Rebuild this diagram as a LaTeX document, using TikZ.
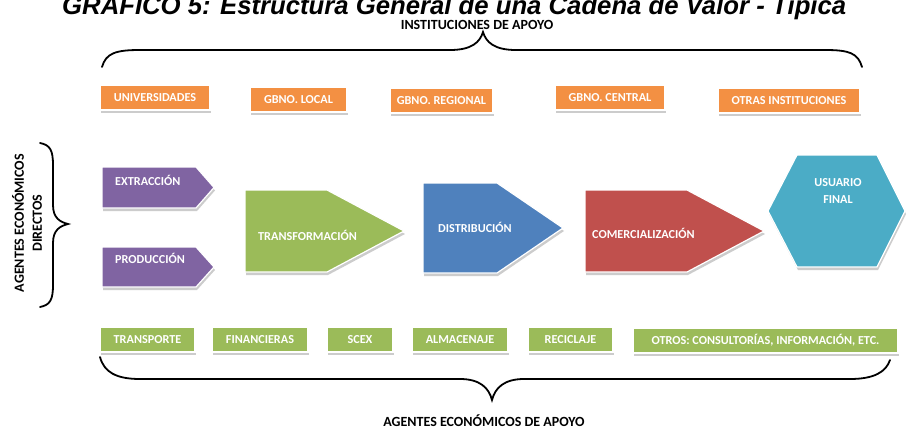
\documentclass[tikz,border=0pt]{standalone}
\usepackage{fontspec}
\setmainfont{Carlito}
\newfontfamily\titlefont{Liberation Sans}
\usetikzlibrary{shadows}
\definecolor{corange}{HTML}{F39043}
\definecolor{cpurple}{HTML}{8064A2}
\definecolor{cgreen}{HTML}{9BBB59}
\definecolor{cblue}{HTML}{4F81BD}
\definecolor{cred}{HTML}{C0504D}
\definecolor{cteal}{HTML}{4BACC6}
\begin{document}
\begin{tikzpicture}[x=1pt,y=-1pt,
  lbl/.style={font=\fontsize{12.2}{14}\selectfont\bfseries, text=white, inner sep=0pt},
  shp/.style={draw=white, line width=1.2pt, drop shadow={shadow xshift=1pt, shadow yshift=-3pt, opacity=0.4}},
  obox/.style={shp, fill=corange, lbl, minimum height=25pt},
  gbox/.style={shp, fill=cgreen, lbl, minimum height=25pt},
  hdr/.style={font=\fontsize{14}{16}\selectfont\bfseries, text=black, inner sep=0pt},
  bracestyle/.style={line width=1.8pt, line cap=round}]
\useasboundingbox (0,0) rectangle (911,431);
\fill[white] (0,0) rectangle (911,431);
\clip (0,0) rectangle (911,431);
% cut title
\node[anchor=base west, inner sep=0pt, font=\titlefont\fontsize{25.7}{28}\selectfont\bfseries\itshape] (title) at (62,14) {GRÁFICO 5: Estructura General de una Cadena de Valor - Típica};
% header
\node[hdr] (inst) at (477,25) {INSTITUCIONES DE APOYO};
\draw[bracestyle] (102,67) .. controls (106,53) and (116,50) .. (140,50) -- (450,50) .. controls (472,50) and (480,42) .. (483,32) .. controls (486,42) and (494,50) .. (516,50) -- (825,50) .. controls (849,50) and (858,53) .. (862,67);
% orange boxes
\node[obox, minimum width=110pt] (univ) at (155,97.5) {UNIVERSIDADES};
\node[obox, minimum width=97pt] (glocal) at (298.5,99.5) {GBNO. LOCAL};
\node[obox, minimum width=103pt] (gregional) at (441.5,100.5) {GBNO. REGIONAL};
\node[obox, minimum width=110pt] (gcentral) at (610,97.5) {GBNO. CENTRAL};
\node[obox, minimum width=142pt] (otras) at (789,100.5) {OTRAS INSTITUCIONES};
% left brace and label
\draw[bracestyle] (40,143) .. controls (50,145) and (53,150) .. (53,165) -- (53,205) .. controls (53,218) and (60,222) .. (68,224) .. controls (60,226) and (53,230) .. (53,243) -- (53,285) .. controls (53,300) and (50,305) .. (40,307);
\node[hdr, rotate=90, align=center, font=\fontsize{14}{18}\selectfont\bfseries] (directos) at (27,223) {AGENTES ECONÓMICOS\\DIRECTOS};
% purple arrows
\path[shp, fill=cpurple] (102,167) -- (196,167) -- (214,187.5) -- (196,208) -- (102,208) -- cycle;
\node[lbl, anchor=west] (extr) at (115,180) {EXTRACCIÓN};
\path[shp, fill=cpurple] (102,247) -- (196,247) -- (214,267) -- (196,287) -- (102,287) -- cycle;
\node[lbl, anchor=west] (prod) at (115,258) {PRODUCCIÓN};
% main chain
\path[shp, fill=cgreen] (245,190) -- (327,190) -- (404,231) -- (327,272) -- (245,272) -- cycle;
\node[lbl, anchor=west] (transf) at (258,235) {TRANSFORMACIÓN};
\path[shp, fill=cblue] (423,183) -- (497,183) -- (563,228) -- (497,273) -- (423,273) -- cycle;
\node[lbl, anchor=west] (distr) at (438,227) {DISTRIBUCIÓN};
\path[shp, fill=cred] (585,190) -- (687,190) -- (764,231) -- (687,272) -- (585,272) -- cycle;
\node[lbl, anchor=west] (comer) at (592,233) {COMERCIALIZACIÓN};
\path[shp, fill=cteal] (768,211) -- (797,155) -- (877,155) -- (905,211) -- (877,267) -- (797,267) -- cycle;
\node[lbl, align=center, font=\fontsize{12.2}{17}\selectfont\bfseries] (usuario) at (838,191) {USUARIO\\FINAL};
% green boxes
\node[gbox, minimum width=95pt] (transp) at (147.5,339.5) {TRANSPORTE};
\node[gbox, minimum width=96pt] (finan) at (260,339.5) {FINANCIERAS};
\node[gbox, minimum width=66pt] (scex) at (360,339.5) {SCEX};
\node[gbox, minimum width=96pt] (alma) at (460,339.5) {ALMACENAJE};
\node[gbox, minimum width=85pt] (recic) at (570.5,339.5) {RECICLAJE};
\node[gbox, minimum width=265pt] (otros) at (765.5,340.5) {OTROS: CONSULTORÍAS, INFORMACIÓN, ETC.};
% bottom brace
\draw[bracestyle] (100,357) .. controls (104,372) and (116,379) .. (140,379) -- (460,379) .. controls (480,379) and (489,388) .. (492,400) .. controls (495,388) and (504,379) .. (524,379) -- (850,379) .. controls (874,379) and (886,372) .. (890,360);
\node[hdr] (apoyo) at (484,421) {AGENTES ECONÓMICOS DE APOYO};
\end{tikzpicture}
\end{document}
